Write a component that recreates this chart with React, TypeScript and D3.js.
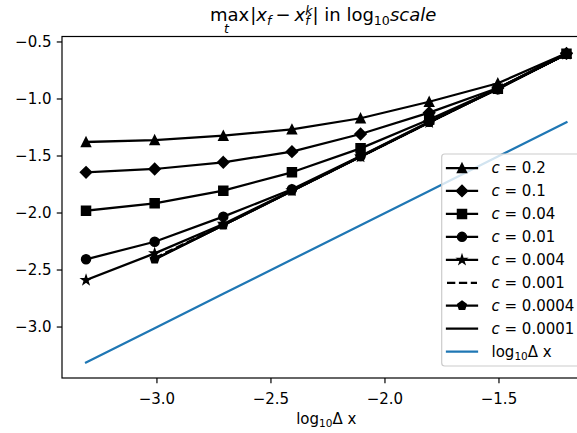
import React from 'react';
import * as d3 from 'd3';

// log10 of the grid step (dx = 2^-11 ... 2^-4)
const logDx = [-3.311, -3.01, -2.709, -2.408, -2.107, -1.806, -1.505, -1.204];

// log10 max error for each c (null = not computed)
const errC02 = [-1.377, -1.36, -1.322, -1.266, -1.169, -1.024, -0.862, -0.598];
const errC01 = [-1.643, -1.614, -1.555, -1.462, -1.307, -1.12, -0.904, -0.6];
const errC004 = [-1.98, -1.915, -1.804, -1.643, -1.433, -1.18, -0.91, -0.603];
const errC001 = [-2.406, -2.252, -2.032, -1.792, -1.5, -1.2, -0.915, -0.605];
const errC0004 = [-2.588, -2.354, -2.096, -1.802, -1.505, -1.205, -0.91, -0.607];
const errC0001 = [null, -2.395, -2.105, -1.806, -1.506, -1.206, -0.906, -0.607];
const errC00004 = [null, -2.405, -2.107, -1.807, -1.507, -1.206, -0.906, -0.607];
const errC00001 = [null, -2.407, -2.108, -1.808, -1.507, -1.206, -0.906, -0.607];

const cLabels = ['0.2', '0.1', '0.04', '0.01', '0.004', '0.001', '0.0004', '0.0001'];
const errSeries = [errC02, errC01, errC004, errC001, errC0004, errC0001, errC00004, errC00001];
const markers = ['triangle', 'diamond', 'square', 'circle', 'star', 'none', 'pentagon', 'none'];

const W = 577;
const H = 433;
const FONT = 'DejaVu Sans';
const BLUE = '#1f77b4';

// marker outline centered at 0,0
function markerPath(kind: string): string {
  const r = 4.5;
  if (kind === 'triangle') return `M0,${-r}L${r},${r}L${-r},${r}Z`;
  if (kind === 'diamond') {
    const h = 5.6;
    return `M0,${-h}L${h},0L0,${h}L${-h},0Z`;
  }
  if (kind === 'square') return `M${-r},${-r}H${r}V${r}H${-r}Z`;
  if (kind === 'circle') return d3.symbol(d3.symbolCircle, Math.PI * r * r)() || '';
  if (kind === 'star' || kind === 'pentagon') {
    const pts: [number, number][] = [];
    const n = kind === 'star' ? 10 : 5;
    for (let i = 0; i < n; i++) {
      const rr = kind === 'star' && i % 2 === 1 ? r * 0.382 : r;
      const a = (i * 2 * Math.PI) / n;
      pts.push([rr * Math.sin(a), -rr * Math.cos(a)]);
    }
    return 'M' + pts.map(p => p.map(v => v.toFixed(2)).join(',')).join('L') + 'Z';
  }
  return '';
}

const App = () => {
  const margin = { left: 62, top: 36.5, right: 590.5, bottom: 378 };

  const x = d3.scaleLinear().domain([-3.4164, -1.0986]).range([margin.left, margin.right]);
  const y = d3.scaleLinear().domain([-3.447, -0.452]).range([margin.bottom, margin.top]);

  const line = d3
    .line<number | null>()
    .defined(d => d !== null)
    .x((d, i) => x(logDx[i]))
    .y(d => y(d as number));

  const blueLine = d3
    .line<number>()
    .x(d => x(d))
    .y(d => y(d));

  const fmt = d3.format('.1f');
  const xTicks = x.ticks(5);
  const yTicks = y.ticks(6);

  // legend geometry
  const lgLeft = 441.7;
  const lgTop = 154;
  const lgBottom = 366;
  const rowY0 = 168;
  const rowStep = 22.95;
  const hx0 = 447;
  const hx1 = 477;
  const tx = 491.5;

  return (
    <svg
      width={W}
      height={H}
      viewBox={`0 0 ${W} ${H}`}
      style={{ position: 'absolute', left: 0, top: 0, background: '#fff' }}
      fontFamily={FONT}
    >
      <rect x={0} y={0} width={W} height={H} fill="#fff" />

      <defs>
        <clipPath id="plotArea">
          <rect x={margin.left} y={margin.top} width={margin.right - margin.left} height={margin.bottom - margin.top} />
        </clipPath>
      </defs>

      {/* error curves */}
      <g clipPath="url(#plotArea)">
        {errSeries.map((s, k) => (
          <path
            key={'l' + k}
            d={line(s) || ''}
            fill="none"
            stroke="#000"
            strokeWidth={2.25}
            strokeLinejoin="round"
            strokeLinecap={k === 5 ? 'butt' : 'square'}
            strokeDasharray={k === 5 ? '8.3,3.6' : undefined}
          />
        ))}
      </g>
      {errSeries.map((s, k) =>
        markers[k] === 'none'
          ? null
          : s.map((v, i) =>
              v === null ? null : (
                <path
                  key={`m${k}-${i}`}
                  d={markerPath(markers[k])}
                  transform={`translate(${x(logDx[i])},${y(v)})`}
                  fill="#000"
                  stroke="#000"
                  strokeWidth={1.5}
                  strokeLinejoin="miter"
                />
              )
            )
      )}
      <path d={blueLine(logDx) || ''} fill="none" stroke={BLUE} strokeWidth={2.25} strokeLinecap="square" />

      {/* spines */}
      <rect
        x={margin.left}
        y={margin.top}
        width={margin.right - margin.left}
        height={margin.bottom - margin.top}
        fill="none"
        stroke="#000"
        strokeWidth={1.2}
      />

      {/* x axis */}
      {xTicks.map(t => (
        <g key={'xt' + t}>
          <line x1={x(t)} x2={x(t)} y1={margin.bottom} y2={margin.bottom + 5.25} stroke="#000" strokeWidth={1.2} />
          <text x={x(t)} y={404} textAnchor="middle" fontSize={15} fill="#000">
            {fmt(t)}
          </text>
        </g>
      ))}
      <text x={(margin.left + margin.right) / 2} y={424} textAnchor="middle" fontSize={15} fill="#000">
        log
        <tspan fontSize={10.5} dy={3}>
          10
        </tspan>
        <tspan dy={-3}>Δ x</tspan>
      </text>

      {/* y axis */}
      {yTicks.map(t => (
        <g key={'yt' + t}>
          <line x1={margin.left - 5.25} x2={margin.left} y1={y(t)} y2={y(t)} stroke="#000" strokeWidth={1.2} />
          <text x={51.5} y={y(t) + 5.4} textAnchor="end" fontSize={15} fill="#000">
            {fmt(t)}
          </text>
        </g>
      ))}

      {/* title */}
      <text x={210} y={21} fontSize={18} fill="#000">
        <tspan>max</tspan>
        <tspan dx={1}>|</tspan>
        <tspan fontStyle="italic">x</tspan>
        <tspan fontSize={12.6} fontStyle="italic" dy={3.5}>
          f
        </tspan>
        <tspan dy={-3.5} dx={4}>
          −
        </tspan>
        <tspan dx={4} fontStyle="italic">
          x
        </tspan>
        <tspan fontSize={12.6} fontStyle="italic" dy={3.5}>
          f
        </tspan>
        <tspan fontSize={12.6} fontStyle="italic" dx={-4.4} dy={-10}>
          k
        </tspan>
        <tspan dy={6.5}>|</tspan>
        <tspan> in log</tspan>
        <tspan fontSize={12.6} dy={3.5}>
          10
        </tspan>
        <tspan dy={-3.5} fontStyle="italic">
          scale
        </tspan>
      </text>
      <text x={226.5} y={33} fontSize={12.6} fontStyle="italic" textAnchor="middle" fill="#000">
        t
      </text>

      {/* legend */}
      <rect
        x={lgLeft}
        y={lgTop}
        width={590 - 7.5 - lgLeft}
        height={lgBottom - lgTop}
        rx={3}
        fill="#fff"
        fillOpacity={0.8}
        stroke="#cccccc"
        strokeWidth={1.2}
      />
      {cLabels.map((c, k) => {
        const cy = rowY0 + k * rowStep;
        return (
          <g key={'lg' + k}>
            <line
              x1={hx0}
              x2={hx1}
              y1={cy}
              y2={cy}
              stroke="#000"
              strokeWidth={2.25}
              strokeLinecap={k === 5 ? 'butt' : 'square'}
              strokeDasharray={k === 5 ? '8.3,3.6' : undefined}
            />
            {markers[k] !== 'none' && (
              <path
                d={markerPath(markers[k])}
                transform={`translate(${(hx0 + hx1) / 2},${cy})`}
                fill="#000"
                stroke="#000"
                strokeWidth={1.5}
              />
            )}
            <text x={tx} y={cy + 5.4} fontSize={15} fill="#000">
              <tspan fontStyle="italic">c</tspan>
              <tspan> = {c}</tspan>
            </text>
          </g>
        );
      })}
      {(() => {
        const cy = rowY0 + 8 * rowStep;
        return (
          <g>
            <line x1={hx0} x2={hx1} y1={cy} y2={cy} stroke={BLUE} strokeWidth={2.25} strokeLinecap="square" />
            <text x={tx} y={cy + 5.4} fontSize={15} fill="#000">
              log
              <tspan fontSize={10.5} dy={3}>
                10
              </tspan>
              <tspan dy={-3}>Δ x</tspan>
            </text>
          </g>
        );
      })()}
    </svg>
  );
};

export default App;
